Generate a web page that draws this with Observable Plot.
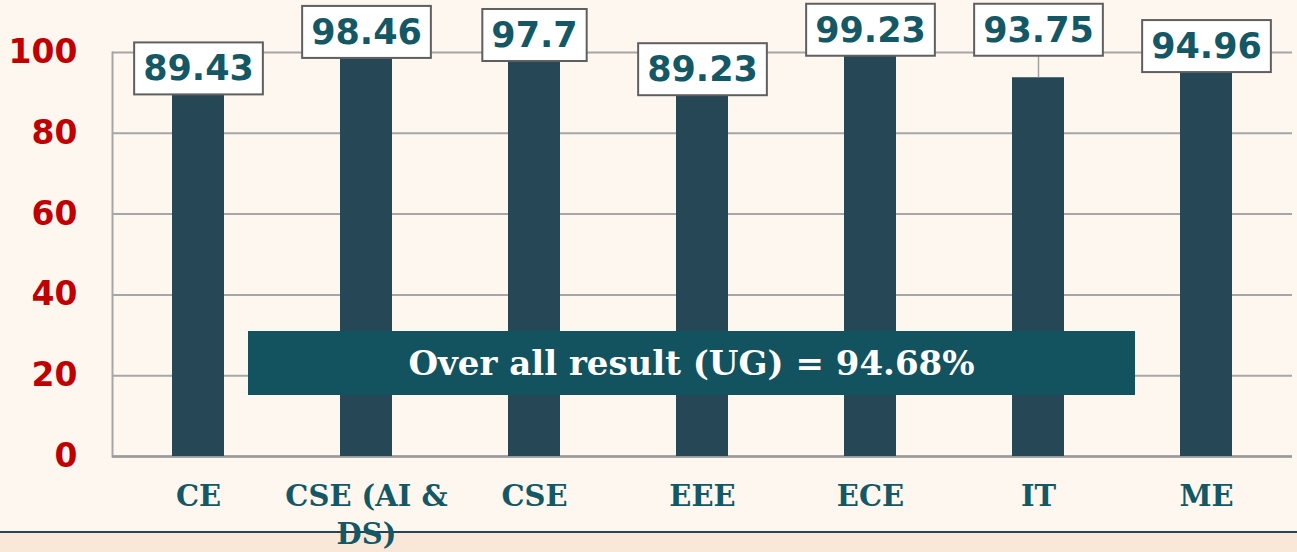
<!DOCTYPE html>
<html>
<head>
<meta charset="utf-8">
<script src="https://cdn.jsdelivr.net/npm/d3@7"></script>
<script src="https://cdn.jsdelivr.net/npm/@observablehq/plot@0.6"></script>
<style>
  html, body { margin: 0; padding: 0; background: #fdf7f0; }
  #wrap { position: relative; width: 1297px; height: 552px; overflow: hidden; background: #fdf7f0; }
  #band { position: absolute; left: 0; top: 531px; width: 1297px; height: 21px; background: #f9e8d8; border-top: 2px solid #234558; }
  #chart { position: absolute; left: 0; top: 0; }
  #overall { position: absolute; left: 248px; top: 331px; width: 887px; height: 64px; background: #13535f;
    color: #ffffff; font-family: "DejaVu Serif", serif; font-weight: bold; font-size: 34px;
    display: flex; align-items: center; justify-content: center; }
</style>
</head>
<body>
<div id="wrap">
  <div id="band"></div>
  <div id="chart"></div>
  <div id="overall"></div>
</div>
<script>
// ---- data ----
const categories = ["CE", "CSE (AI & DS)", "CSE", "EEE", "ECE", "IT", "ME"];
const passPct = [89.43, 98.46, 97.7, 89.23, 99.23, 93.75, 94.96];
const valueLabels = ["89.43", "98.46", "97.7", "89.23", "99.23", "93.75", "94.96"];
const categoryLabels = ["CE", "CSE (AI &\nDS)", "CSE", "EEE", "ECE", "IT", "ME"];
const yTicks = [0, 20, 40, 60, 80, 100];
const overallText = "Over all result (UG) = 94.68%";

// ---- build table ----
const data = categories.map((c, i) => ({cat: c, value: passPct[i], label: valueLabels[i], tick: categoryLabels[i]}));
const labelCap = 99;           // labels cannot rise above the plot top
const raisedLabels = ["IT"];   // label moved up with a leader line
const labelY = d => raisedLabels.includes(d.cat) ? labelCap : Math.min(d.value, labelCap);

const teal = "#145866";
const chart = Plot.plot({
  width: 1297,
  height: 552,
  marginLeft: 112,
  marginRight: 5,
  marginTop: 52,
  marginBottom: 96,
  style: {background: "transparent", overflow: "visible"},
  x: {domain: categories, paddingInner: 0.69, paddingOuter: 0.345, axis: null},
  y: {domain: [0, 100], axis: null},
  marks: [
    Plot.gridY(yTicks, {stroke: "#a6a6a6", strokeOpacity: 1, strokeWidth: 2}),
    Plot.frame({anchor: "left", stroke: "#a6a6a6", strokeWidth: 2}),
    Plot.ruleY([0], {stroke: "#9a9a9a", strokeWidth: 2.5}),
    Plot.barY(data, {x: "cat", y: "value", fill: "#254756"}),
    Plot.axisY(yTicks, {tickSize: 0, tickPadding: 35, fontSize: 33, fontWeight: "bold", label: null,
      color: "#c00000", fontFamily: "DejaVu Sans", textAnchor: "end"}),
    Plot.text(data, {x: "cat", text: "tick", frameAnchor: "bottom", lineAnchor: "top", dy: 23,
      fontSize: 29, fontWeight: "bold", fontFamily: "DejaVu Serif", fill: teal, lineHeight: 1.3}),
    Plot.ruleX(data.filter(d => raisedLabels.includes(d.cat)),
      {x: "cat", y1: labelY, y2: "value", stroke: "#a0a0a0", strokeWidth: 1.5}),
    Plot.text(data, {x: "cat", y: labelY, dy: -26, text: "label", fontSize: 35, fontWeight: "bold",
      fontFamily: "DejaVu Sans", fill: teal})
  ]
});
document.getElementById("chart").append(chart);
document.getElementById("overall").textContent = overallText;

// white boxes behind the value labels
const svg = chart.tagName.toLowerCase() === "svg" ? chart : chart.querySelector("svg");
svg.querySelectorAll("text").forEach(t => {
  if (!valueLabels.includes(t.textContent.trim())) return;
  const b = t.getBBox();
  const padX = 9, padY = 6;
  const r = document.createElementNS("http://www.w3.org/2000/svg", "rect");
  r.setAttribute("x", b.x - padX);
  r.setAttribute("y", b.y - padY);
  r.setAttribute("width", b.width + 2 * padX);
  r.setAttribute("height", b.height + 2 * padY);
  r.setAttribute("fill", "#ffffff");
  r.setAttribute("stroke", "#5f5f5f");
  r.setAttribute("stroke-width", "2");
  const tr = t.getAttribute("transform");
  if (tr) r.setAttribute("transform", tr);
  t.parentNode.insertBefore(r, t);
});
</script>
</body>
</html>
